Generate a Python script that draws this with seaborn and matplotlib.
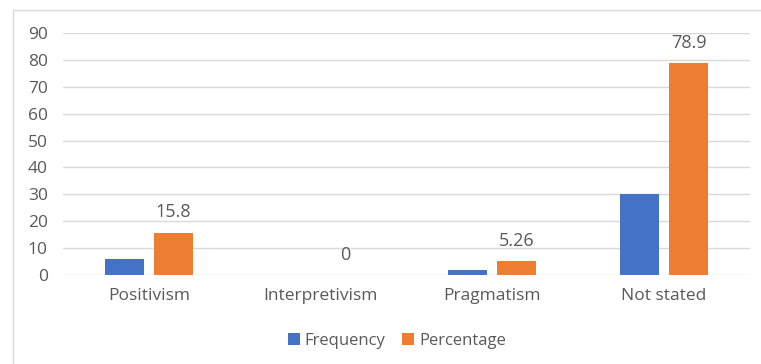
import matplotlib
matplotlib.use("Agg")
import matplotlib.pyplot as plt
from matplotlib.patches import Rectangle
import seaborn as sns
import pandas as pd

categories = ["Positivism", "Interpretivism", "Pragmatism", "Not stated"]
frequency = [6, 0, 2, 30]
percentage = [15.8, 0, 5.26, 78.9]
series_names = ["Frequency", "Percentage"]
y_ticks = [0, 10, 20, 30, 40, 50, 60, 70, 80, 90]

df = pd.DataFrame({
    "category": categories * 2,
    "series": [series_names[0]] * len(categories) + [series_names[1]] * len(categories),
    "value": frequency + percentage,
})

sns.set_theme(style="white")
plt.rcParams["font.family"] = ["Open Sans", "DejaVu Sans"]
text_color = "#595959"
grid_color = "#D9D9D9"

fig = plt.figure(figsize=(7.61, 3.64), dpi=100)
fig.patch.set_facecolor("white")
ax = fig.add_axes([63 / 761, 1 - 275 / 364, (750 - 63) / 761, (275 - 33) / 364])

sns.barplot(data=df, x="category", y="value", hue="series", order=categories,
            hue_order=series_names, palette=["#4472C4", "#ED7D31"],
            width=0.57, gap=0.2, ax=ax, saturation=1, legend=True,
            linewidth=0, edgecolor="none")

ax.set_ylim(0, 90)
ax.set_xlim(-0.5, len(categories) - 0.5)
ax.set_yticks(y_ticks)
ax.set_yticklabels([str(t) for t in y_ticks])
ax.set_xlabel("")
ax.set_ylabel("")
ax.yaxis.grid(True, color=grid_color, linewidth=1)
ax.set_axisbelow(True)
for s in ax.spines.values():
    s.set_visible(False)
ax.tick_params(axis="both", length=0, colors=text_color, labelsize=12.5)
ax.tick_params(axis="y", pad=11)
ax.tick_params(axis="x", pad=9)

# Value labels on the percentage series
pct_container = ax.containers[1]
ax.bar_label(pct_container, labels=[f"{v:g}" for v in percentage],
             padding=8, color=text_color, fontsize=13)

# Legend below the axes
handles, labels = ax.get_legend_handles_labels()
ax.get_legend().remove()
fig.legend(handles, labels, loc="center", bbox_to_anchor=(397 / 761, 1 - 341 / 364),
           ncol=2, frameon=False, handlelength=0.7, handleheight=0.7,
           handletextpad=0.3, columnspacing=1.0, fontsize=12, labelcolor=text_color)

# Chart area outline
fig.patches.append(Rectangle((13 / 761, -0.1), 1.0, 1.1 - 10 / 364,
                             transform=fig.transFigure, fill=False,
                             edgecolor=grid_color, linewidth=1))

fig.savefig("out.png", dpi=100)
